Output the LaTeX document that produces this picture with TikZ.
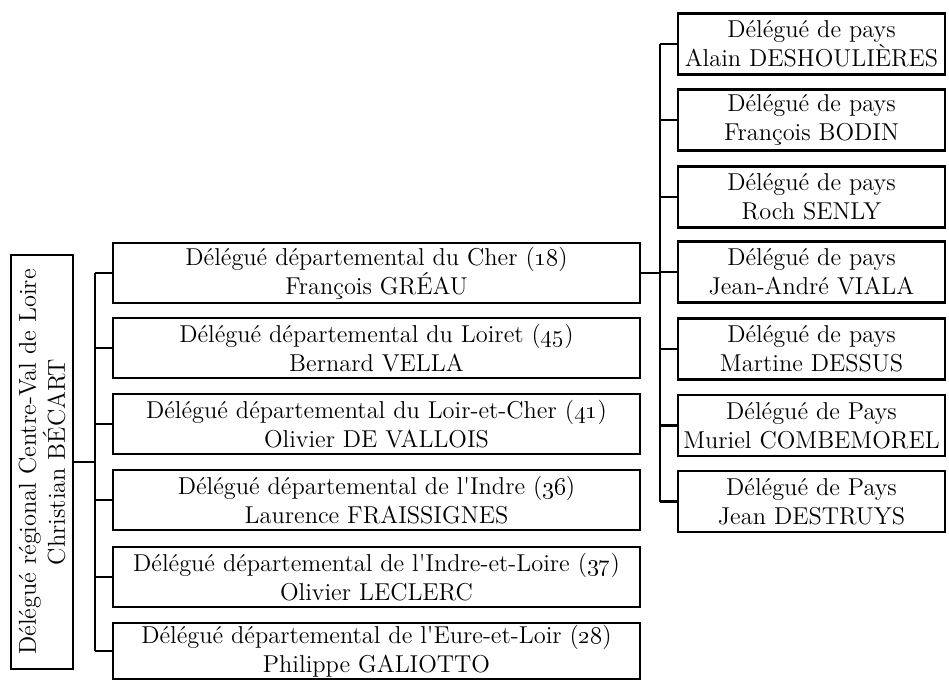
\documentclass[tikz,border=0pt]{standalone}
\usepackage{tikz}
\usetikzlibrary{calc}
\def\ap{\textquotesingle}
\def\dept{Délégué départemental}
\begin{document}
\begin{tikzpicture}[x=0.5pt,y=-0.5pt,line width=1.2pt,
    deleg/.style={draw,align=center,inner sep=0pt,font=\fontsize{12.2}{14.5}\selectfont},
    deptbox/.style={deleg,minimum width=263.5pt,minimum height=30pt},
    paysbox/.style={deleg,minimum width=133.5pt,minimum height=30.5pt}]
    \useasboundingbox (0,0) rectangle (949,680);
    \draw
    (42,462) node[deleg,rotate=90,minimum width=207pt,minimum height=31pt] (reg)
      {Délégué régional Centre-Val de Loire\\Christian BÉCART}
    (376.5,273) node[deptbox] (cher) {\dept{} du Cher (\oldstylenums{18})\\François GRÉAU}
    (376.5,348) node[deptbox] (loiret) {\dept{} du Loiret (\oldstylenums{45})\\Bernard VELLA}
    (376.5,424) node[deptbox] (loircher) {\dept{} du Loir-et-Cher (\oldstylenums{41})\\Olivier DE VALLOIS}
    (376.5,500) node[deptbox] (indre) {\dept{} de l\ap Indre (\oldstylenums{36})\\Laurence FRAISSIGNES}
    (376.5,577) node[deptbox] (indreloire) {\dept{} de l\ap Indre-et-Loire (\oldstylenums{37})\\Olivier LECLERC}
    (376.5,651) node[deptbox,minimum height=28pt] (eure) {\dept{} de l\ap Eure-et-Loir (\oldstylenums{28})\\Philippe GALIOTTO};
    \draw
    (811.5,44) node[paysbox] (p1) {Délégué de pays\\Alain DESHOULIÈRES}
    (811.5,120) node[paysbox] (p2) {Délégué de pays\\François BODIN}
    (811.5,197) node[paysbox] (p3) {Délégué de pays\\Roch SENLY}
    (811.5,272) node[paysbox] (p4) {Délégué de pays\\Jean-André VIALA}
    (811.5,349) node[paysbox] (p5) {Délégué de pays\\Martine DESSUS}
    (811.5,425.5) node[paysbox] (p6) {Délégué de Pays\\Muriel COMBEMOREL}
    (811.5,501.5) node[paysbox] (p7) {Délégué de Pays\\Jean DESTRUYS};
    \coordinate (dbus) at (95,0);
    \coordinate (pbus) at (660,0);
    \draw
    (reg.south) -- (reg.south -| dbus)
    (cher.west -| dbus) -- (eure.west -| dbus)
    (cher.west) edge (cher.west -| dbus)
    (loiret.west) edge (loiret.west -| dbus)
    (loircher.west) edge (loircher.west -| dbus)
    (indre.west) edge (indre.west -| dbus)
    (indreloire.west) edge (indreloire.west -| dbus)
    (eure.west) edge (eure.west -| dbus);
    \draw
    (cher.east) -- (cher.east -| pbus)
    (p1.west -| pbus) -- (p7.west -| pbus)
    (p1.west) edge (p1.west -| pbus)
    (p2.west) edge (p2.west -| pbus)
    (p3.west) edge (p3.west -| pbus)
    (p4.west) edge (p4.west -| pbus)
    (p5.west) edge (p5.west -| pbus)
    (p6.west) edge (p6.west -| pbus)
    (p7.west) edge (p7.west -| pbus);
\end{tikzpicture}
\end{document}
